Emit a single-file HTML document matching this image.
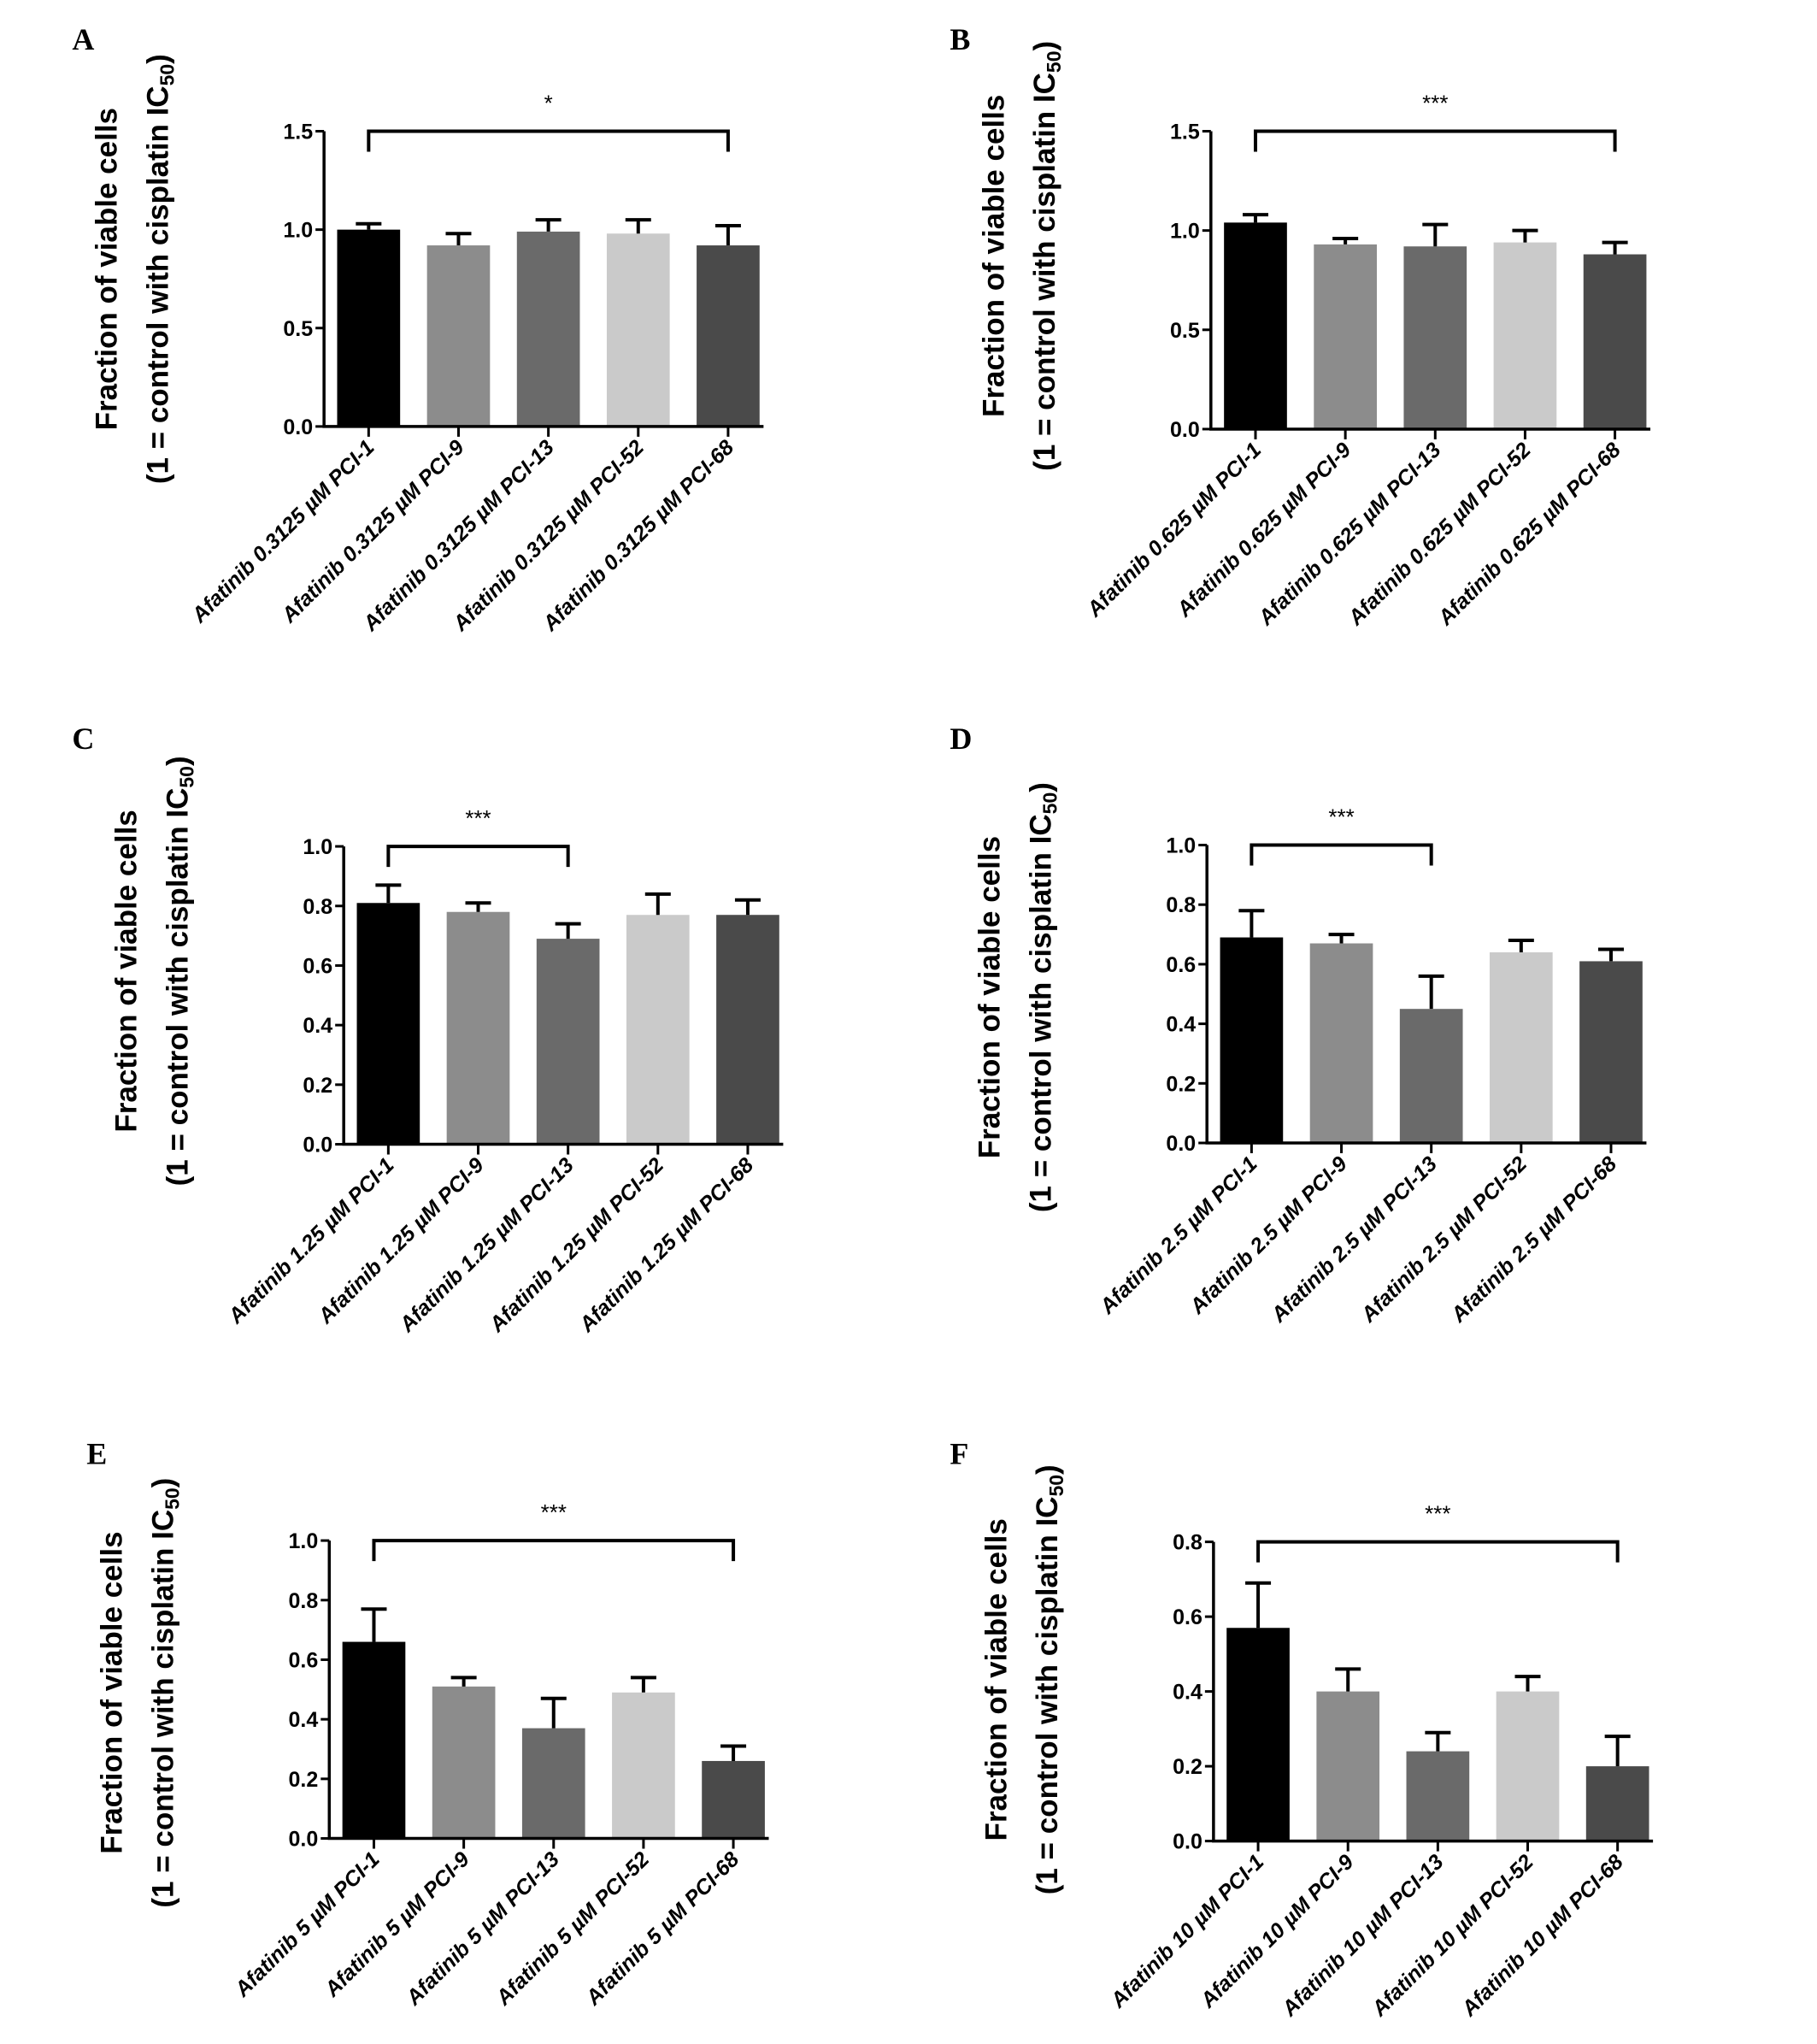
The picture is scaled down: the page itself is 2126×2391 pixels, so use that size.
<!DOCTYPE html>
<html><head><meta charset="utf-8"><style>
html,body{margin:0;padding:0;background:#fff;}
svg{display:block;}
</style></head><body>
<svg id="fig" width="2126" height="2391" viewBox="0 0 2126 2391" xmlns="http://www.w3.org/2000/svg"></svg>
<script>
const colors = ['#000000','#8c8c8c','#6a6a6a','#cacaca','#4a4a4a'];
const cellLines = ['PCI-1','PCI-9','PCI-13','PCI-52','PCI-68'];
const doses = ['0.3125','0.625','1.25','2.5','5','10'];
const panelLetters = ['A','B','C','D','E','F'];
const meansA = [1.00,0.92,0.99,0.98,0.92];
const errA   = [0.03,0.06,0.06,0.07,0.10];
const meansB = [1.04,0.93,0.92,0.94,0.88];
const errB   = [0.04,0.03,0.11,0.06,0.06];
const meansC = [0.81,0.78,0.69,0.77,0.77];
const errC   = [0.06,0.03,0.05,0.07,0.05];
const meansD = [0.69,0.67,0.45,0.64,0.61];
const errD   = [0.09,0.03,0.11,0.04,0.04];
const meansE = [0.66,0.51,0.37,0.49,0.26];
const errE   = [0.11,0.03,0.10,0.05,0.05];
const meansF = [0.57,0.40,0.24,0.40,0.20];
const errF   = [0.12,0.06,0.05,0.04,0.08];
const ticksAB = [0,0.5,1.0,1.5];
const ticksCDE = [0,0.2,0.4,0.6,0.8,1.0];
const ticksF = [0,0.2,0.4,0.6,0.8];
const sigLabels = ['*','***','***','***','***','***'];
const sigEnd = [4,4,2,2,4,4];

const S = 1.535;
const NS = 'http://www.w3.org/2000/svg';
const svg = document.getElementById('fig');
function mk(tag, attrs, parent){
  const e = document.createElementNS(NS, tag);
  for (const k in attrs) e.setAttribute(k, attrs[k]);
  (parent||svg).appendChild(e);
  return e;
}
const panels = [
  {ax:247, top:100, bot:325, means:meansA, err:errA, ticks:ticksAB, lx:55, ly:22, tcy:205},
  {ax:923, top:100, bot:327, means:meansB, err:errB, ticks:ticksAB, lx:724, ly:22, tcy:195},
  {ax:262, top:645, bot:872, means:meansC, err:errC, ticks:ticksCDE, lx:55, ly:555, tcy:740},
  {ax:920, top:644, bot:871, means:meansD, err:errD, ticks:ticksCDE, lx:724, ly:555, tcy:760},
  {ax:251, top:1174, bot:1401, means:meansE, err:errE, ticks:ticksCDE, lx:66, ly:1100, tcy:1290},
  {ax:925, top:1175, bot:1403, means:meansF, err:errF, ticks:ticksF, lx:724, ly:1100, tcy:1280}
];
panels.forEach((p, pi) => {
  const g = mk('g', {});
  
  
  const ax = p.ax*S, top = p.top*S, bot = p.bot*S, right = (p.ax+335)*S;
  const ymax = p.ticks[p.ticks.length-1];
  const y = v => bot - (v/ymax)*(bot-top);
  const bx = i => ax + (34 + i*68.5)*S;
  const bw = 48*S;
  const L = mk('text', {x:p.lx*S, y:p.ly*S+24, 'font-family':'Liberation Serif, serif','font-weight':'bold','font-size':36,fill:'#000'}, g);
  L.textContent = panelLetters[pi];
  
  
  const tx1 = ax - 158*S, tx2 = ax - 119*S, cy = p.tcy*S;
  const t1 = mk('text', {x:tx1, y:cy, transform:`rotate(-90 ${tx1} ${cy})`, 'text-anchor':'middle','font-family':'Liberation Sans, sans-serif','font-weight':'bold','font-size':35,fill:'#000'}, g);
  t1.textContent = 'Fraction of viable cells';
  
  
  const t2 = mk('text', {x:tx2, y:cy, transform:`rotate(-90 ${tx2} ${cy})`, 'text-anchor':'middle','font-family':'Liberation Sans, sans-serif','font-weight':'bold','font-size':35,fill:'#000'}, g);
  t2.innerHTML = '(1 = control with cisplatin IC<tspan font-size="23" dy="7">50</tspan><tspan dy="-7">)</tspan>';
  
  
  p.means.forEach((m, i) => {
    const r = mk('rect', {x:bx(i)-bw/2, y:y(m), width:bw, height:bot-y(m), fill:colors[i]}, g);
    
    
    const e = mk('path', {d:`M${bx(i)} ${y(m)} V${y(m+p.err[i])} M${bx(i)-15} ${y(m+p.err[i])} H${bx(i)+15}`, stroke:'#000','stroke-width':4, fill:'none'}, g);
    
    
    mk('line', {x1:bx(i), x2:bx(i), y1:bot, y2:bot+12, stroke:'#000','stroke-width':3}, g);
    const lab = mk('text', {x:bx(i)+8, y:bot+26, transform:`rotate(-45 ${bx(i)+8} ${bot+26})`, 'text-anchor':'end','font-family':'Liberation Sans, sans-serif','font-weight':'bold','font-style':'italic','font-size':25,fill:'#000'}, g);
    lab.textContent = 'Afatinib ' + doses[pi] + ' µM ' + cellLines[i];
    
    
  });
  const axl = mk('path', {d:`M${ax} ${top} V${bot} H${right}`, stroke:'#000','stroke-width':3.5, fill:'none'}, g);
  
  
  p.ticks.forEach(t => {
    mk('line', {x1:ax-10, x2:ax, y1:y(t), y2:y(t), stroke:'#000','stroke-width':3}, g);
    const tl = mk('text', {x:ax-13, y:y(t)+9, 'text-anchor':'end','font-family':'Liberation Sans, sans-serif','font-weight':'bold','font-size':25,fill:'#000'}, g);
    tl.textContent = t.toFixed(1);
    
    
  });
  const x1 = bx(0), x2 = bx(sigEnd[pi]), by = top;
  const br = mk('path', {d:`M${x1} ${by+24} V${by} H${x2} V${by+24}`, stroke:'#000','stroke-width':4, fill:'none'}, g);
  
  
  const st = mk('text', {x:(x1+x2)/2, y:by-24, 'text-anchor':'middle','font-family':'Liberation Sans, sans-serif','font-size':26,fill:'#000'}, g);
  st.textContent = sigLabels[pi];
  
  
});
</script>
</body></html>
